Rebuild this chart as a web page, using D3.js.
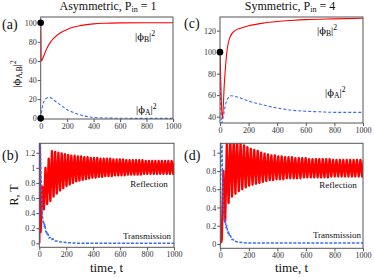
<!DOCTYPE html>
<html><head><meta charset="utf-8">
<script src="https://cdn.jsdelivr.net/npm/d3@7"></script>
<style>
body{margin:0;background:#fff}
text{font-family:"Liberation Serif","Times New Roman",serif}
</style>
</head><body>
<script>
// ---- data ----
var xTicks = [0,200,400,600,800,1000];

// (a) asymmetric, Pin = 1
var tA_B = [0,2,4,10,25,50,75,100,150,200,250,300,400,500,600,800,1000];
var phiB_a = [100,80,60,61,66,74,80,84,89.5,93,95.5,97,98.8,99.5,99.9,100,100];
var tA_A = [0,10,25,50,65,80,100,150,200,250,300,400,500,700,1000];
var phiA_a = [0,10,18,21.5,22,21.2,19,14,9,6,3.5,1,0.3,0,0];
var dots_a = [[0,100],[0,0]];

// (c) symmetric, Pin = 4
var tC_B = [0,8,17,30,47,70,100,150,200,300,400,500,600,800,1000];
var phiB_c = [100,60,38,70,99,114,119.5,122.5,124.5,127,128.5,129.5,130.3,131,131.5];
var tC_A = [0,3,8,12,20,40,60,80,100,150,200,300,400,500,600,700,800,1000];
var phiA_c = [100,70,40,34,38,52,58,59.5,59,57,54.5,51,48,46,45,44.5,44,44];
var dots_c = [[0,100]];

// (b) reflection / transmission, asymmetric
var reflPeriod = 24, reflStart = 10;
var reflB_pre = [[0,0],[4,1.4],[7,0.2]];
var reflB_trough = [0.15,0.45,0.52,0.56,0.62,0.66,0.70,0.73,0.76,0.78,0.80,0.82,0.83,0.84,0.85,0.86,0.87,0.87,0.88,0.88,0.89,0.89,0.89,0.90,0.90,0.90,0.90,0.91,0.91,0.91,0.91,0.91,0.92,0.92,0.92,0.92,0.92,0.92,0.92,0.92,0.92,0.92];
var reflB_peak = [0.75,1.0,1.12,1.22,1.21,1.20,1.19,1.18,1.17,1.16,1.16,1.15,1.15,1.14,1.14,1.13,1.13,1.13,1.12,1.12,1.12,1.12,1.11,1.11,1.11,1.11,1.10,1.10,1.10,1.10,1.10,1.10,1.09,1.09,1.09,1.09,1.09,1.09,1.09,1.09,1.09,1.09];
var transB_t = [0,2,6,12,18,24,28,32,36,42,48,54,60,66,72,80,90,100,115,130,150,200,300,1000];
var transB = [0,1.4,1.4,0.9,0.6,0.35,0.28,0.3,0.22,0.25,0.15,0.17,0.1,0.12,0.07,0.08,0.05,0.06,0.03,0.03,0.02,0.01,0,0];

// (d) reflection / transmission, symmetric
var reflD_pre = [[0,0.05],[6,0.02]];
var reflD_trough = [0.05,0.25,0.45,0.52,0.55,0.58,0.60,0.62,0.64,0.65,0.66,0.67,0.68,0.69,0.70,0.70,0.71,0.71,0.71,0.72,0.72,0.72,0.72,0.72,0.73,0.73,0.73,0.73,0.73,0.73,0.73,0.73,0.74,0.74,0.74,0.74,0.74,0.74,0.74,0.74,0.74,0.74];
var reflD_peak = [0.8,1.1,1.16,1.15,1.13,1.10,1.08,1.06,1.04,1.03,1.02,1.00,0.99,0.98,0.97,0.97,0.96,0.96,0.95,0.95,0.95,0.94,0.94,0.94,0.94,0.93,0.93,0.93,0.93,0.93,0.93,0.93,0.92,0.92,0.92,0.92,0.92,0.92,0.92,0.92,0.92,0.92];
var transD_t = [0,3,10,15,20,25,30,35,40,46,52,58,64,72,80,90,100,130,200,1000];
var transD = [0,1.2,1.2,0.8,0.5,0.28,0.24,0.26,0.18,0.2,0.12,0.14,0.08,0.09,0.05,0.05,0.03,0.02,0.01,0.01];

var ticksA = [0,20,40,60,80,100];
var ticksC = [40,60,80,100,120];
var ticksB = [0,0.2,0.4,0.6,0.8,1,1.2];
var ticksD = [0,0.2,0.4,0.6,0.8,1];

var red = "#ff0000", blue = "#3a6cf0", frameCol = "#555";

var svg = d3.select("body").append("svg")
    .attr("width",374)
    .attr("height",278);

function zip(ts, vs) { return ts.map(function(t,i){ return [t, vs[i]]; }); }

function zigzag(pre, troughs, peaks) {
    var pts = pre.slice();
    troughs.forEach(function(v,i){
        var t = reflStart + i*reflPeriod;
        pts.push([t, v]);
        pts.push([t + reflPeriod/2, peaks[i]]);
    });
    return pts;
}

var clipId = 0;
function panel(box, ydom, yticks) {
    var x = d3.scaleLinear().domain([0,1000]).range([box.l, box.r]);
    var y = d3.scaleLinear().domain(ydom).range([box.b, box.t]);
    var g = svg.append("g");

    var xa = g.append("g").attr("transform","translate(0,"+box.b+")")
        .call(d3.axisBottom(x).tickValues(xTicks).tickSize(3).tickPadding(1).tickFormat(d3.format("d")));
    var ya = g.append("g").attr("transform","translate("+box.l+",0)")
        .call(d3.axisLeft(y).tickValues(yticks).tickSize(3).tickPadding(1).tickFormat(function(d){return String(d);}));
    [xa, ya].forEach(function(a){
        a.attr("font-family", "'Liberation Serif',serif").attr("font-size", 8);
        a.select(".domain").remove();
        a.selectAll("line").attr("stroke", frameCol);
        a.selectAll("text").attr("fill","#333");
    });

    clipId++;
    svg.append("clipPath").attr("id","clip"+clipId).append("rect")
        .attr("x",box.l).attr("y",box.t).attr("width",box.r-box.l).attr("height",box.b-box.t);
    var plot = g.append("g").attr("clip-path","url(#clip"+clipId+")");

    g.append("rect").attr("x",box.l).attr("y",box.t)
        .attr("width",box.r-box.l).attr("height",box.b-box.t)
        .attr("fill","none").attr("stroke",frameCol).attr("stroke-width",1);

    return {x:x, y:y, plot:plot, g:g};
}

function curve(p, pts, col, dash, w, smooth) {
    var line = d3.line().x(function(d){return p.x(d[0]);}).y(function(d){return p.y(d[1]);})
        .curve(smooth ? d3.curveMonotoneX : d3.curveLinear);
    p.plot.append("path").datum(pts)
        .attr("d", line).attr("fill","none")
        .attr("stroke", col).attr("stroke-width", w)
        .attr("stroke-linejoin","round")
        .attr("stroke-dasharray", dash);
}

function phiLabel(x, y, sub, size) {
    var t = svg.append("text").attr("x",x).attr("y",y).style("font-size",size+"px").attr("fill","#000");
    t.append("tspan").text("|");
    t.append("tspan").style("font-family","'DejaVu Serif',serif").style("font-size",(size*0.9)+"px").text("\u03d5");
    t.append("tspan").attr("baseline-shift","-25%").style("font-size",(size*0.7)+"px").text(sub);
    t.append("tspan").text("|");
    t.append("tspan").attr("baseline-shift","45%").style("font-size",(size*0.7)+"px").text("2");
    return t;
}

// ---- panel (a) ----
var pa = panel({l:40.7, r:173, t:17, b:119}, [-0.7,106], ticksA);
curve(pa, zip(tA_A, phiA_a), blue, "3,2", 1.1, true);
curve(pa, zip(tA_B, phiB_a), red, null, 1.1, true);
pa.g.selectAll("circle.dot").data(dots_a).enter().append("circle")
    .attr("cx", function(d){return pa.x(d[0]);}).attr("cy", function(d){return pa.y(d[1]);})
    .attr("r",3.3).attr("fill","#000");

// ---- panel (c) ----
var pc = panel({l:220, r:363, t:17, b:123}, [34.1,132.7], ticksC);
curve(pc, zip(tC_A, phiA_c), blue, "3,2", 1.1, true);
curve(pc, zip(tC_B, phiB_c), red, null, 1.1, true);
pc.g.selectAll("circle.dot").data(dots_c).enter().append("circle")
    .attr("cx", function(d){return pc.x(d[0]);}).attr("cy", function(d){return pc.y(d[1]);})
    .attr("r",3.3).attr("fill","#000");

// ---- panel (b) ----
var pb = panel({l:39.3, r:174, t:143.3, b:247.3}, [-0.053,1.325], ticksB);
curve(pb, zigzag(reflB_pre, reflB_trough, reflB_peak), red, null, 2.4, false);
curve(pb, zip(transB_t, transB), blue, "3,1.5", 1.5, false);

// ---- panel (d) ----
var pd = panel({l:220.3, r:363, t:143.3, b:248.3}, [-0.047,1.103], ticksD);
curve(pd, zigzag(reflD_pre, reflD_trough, reflD_peak), red, null, 2.4, false);
curve(pd, zip(transD_t, transD), blue, "3,1.5", 1.5, false);

// ---- text ----
function title(x, txt, val) {
    var t = svg.append("text").attr("x",x).attr("y",10).attr("text-anchor","middle")
        .style("font-size","12px").attr("fill","#111");
    t.append("tspan").text(txt + ", P");
    t.append("tspan").attr("baseline-shift","-25%").style("font-size","8px").text("in");
    t.append("tspan").text(" = " + val);
}
title(108, "Asymmetric", 1);
title(290, "Symmetric", 4);

[["(a)",2,29],["(b)",2,160],["(c)",184,28],["(d)",184,160]].forEach(function(l){
    svg.append("text").attr("x",l[1]).attr("y",l[2]).text(l[0])
        .style("font-size","14px").attr("fill","#111");
});

var yl = svg.append("text").attr("transform","translate(20,74) rotate(-90)")
    .attr("text-anchor","middle").style("font-size","11px").attr("fill","#000");
yl.append("tspan").text("|");
yl.append("tspan").style("font-family","'DejaVu Serif',serif").style("font-size","10px").text("\u03d5");
yl.append("tspan").attr("baseline-shift","-25%").style("font-size","7.5px").text("A,B");
yl.append("tspan").text("|");
yl.append("tspan").attr("baseline-shift","45%").style("font-size","7.5px").text("2");

svg.append("text").attr("transform","translate(18,195) rotate(-90)")
    .attr("text-anchor","middle").style("font-size","12px").attr("fill","#111").text("R, T");

[106.5, 291.5].forEach(function(cx){
    svg.append("text").attr("x",cx).attr("y",272).attr("text-anchor","middle")
        .style("font-size","13px").attr("fill","#111").text("time, t");
});

phiLabel(135, 40, "B", 11);
phiLabel(136, 113, "A", 11);
phiLabel(317, 34, "B", 11);
phiLabel(325, 96, "A", 11);

[["Reflection",149,187],["Transmission",147,239],["Reflection",338,188],["Transmission",337,238]].forEach(function(l){
    svg.append("text").attr("x",l[1]).attr("y",l[2]).attr("text-anchor","middle")
        .style("font-size","9px").attr("fill","#111").text(l[0]);
});
</script>
</body></html>
